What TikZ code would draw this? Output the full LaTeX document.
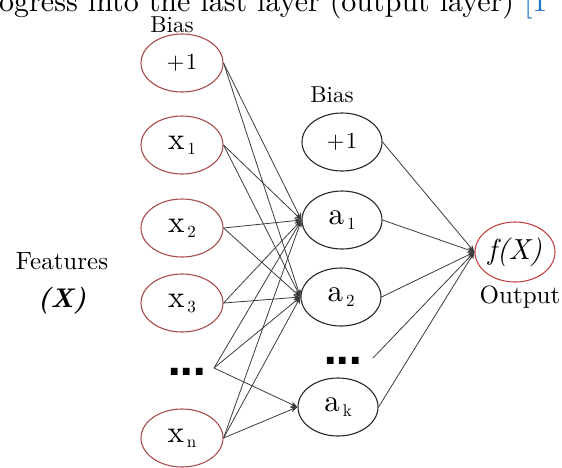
\documentclass[tikz,border=0pt]{standalone}
\usepackage{fontspec}
\setmainfont{lmroman10-regular.otf}[BoldFont=lmroman10-bold.otf, ItalicFont=lmroman10-italic.otf, BoldItalicFont=lmroman10-bolditalic.otf]
\usetikzlibrary{shapes.geometric,arrows.meta}
\newfontfamily\dotsfont{DejaVu Sans}
\definecolor{inred}{HTML}{A84C4C}
\definecolor{outred}{HTML}{C04545}
\definecolor{linkgray}{HTML}{3C3C3C}
\definecolor{refblue}{HTML}{1E78C8}
\newcommand{\nlab}[2]{{\fontsize{31}{31}\selectfont #1}\hspace{3pt}\raisebox{-5pt}{\fontsize{17}{17}\selectfont #2}}
\newcommand{\plusone}{{\fontsize{23}{23}\selectfont +\hspace{1.5pt}1}}
\newcommand{\bigdots}{{\dotsfont\bfseries\fontsize{38}{38}\selectfont .\kern-2pt.\kern-2pt.}}
\begin{document}
\begin{tikzpicture}[x=1pt,y=-1pt,
  neuron/.style={ellipse, draw, line width=1.1pt, minimum width=82pt, minimum height=58pt, inner sep=0pt},
  inneuron/.style={neuron, draw=inred},
  hidneuron/.style={neuron, draw=black!85, minimum width=80pt},
  outneuron/.style={neuron, draw=outred, minimum width=80pt, minimum height=60pt},
  link/.style={draw=linkgray, line width=0.8pt, -{Stealth[length=7pt,width=5.5pt]}},
  lbl/.style={inner sep=0pt, font=\fontsize{23}{23}\selectfont},
  biglbl/.style={inner sep=0pt, font=\fontsize{25}{25}\selectfont},
  dotnode/.style={inner sep=0pt}]
\useasboundingbox (0,0) rectangle (562,467);
% cut-off caption line at top
\node[anchor=base west, inner sep=0pt, font=\fontsize{30}{30}\selectfont] (toptext) at (-1,11)
  {ogress into the last layer (output layer) \textcolor{refblue}{[1}};
% input layer
\node[lbl] (biasL) at (172,25) {Bias};
\node[inneuron] (in0) at (182,63) {\plusone};
\node[inneuron] (in1) at (182,145) {\nlab{x}{1}};
\node[inneuron] (in2) at (182,228) {\nlab{x}{2}};
\node[inneuron] (in3) at (182,303) {\nlab{x}{3}};
\node[dotnode] (inDots) at (187,372) {\bigdots};
\node[inneuron] (inN) at (182,438) {\nlab{x}{n}};
\coordinate (inDotsR) at (214,368);
\node[biglbl] (feat) at (62,261) {Features};
\node[inner sep=0pt, font=\fontsize{27}{27}\selectfont\bfseries\itshape] (featX) at (62,301) {(X)};
% hidden layer
\node[lbl] (biasH) at (332,95) {Bias};
\node[hidneuron] (h0) at (342,142) {\plusone};
\node[hidneuron] (a1) at (342,220) {\nlab{a}{1}};
\node[hidneuron] (a2) at (341,297) {\nlab{a}{2}};
\node[dotnode] (hDots) at (343,361) {\bigdots};
\node[hidneuron] (ak) at (338,407) {\nlab{a}{k}};
\coordinate (hDotsR) at (373,358);
% output
\node[outneuron] (out) at (515,252) {{\fontsize{29}{29}\selectfont\itshape f(X)}};
\node[biglbl] (outlbl) at (520,297) {Output};
% connections input -> hidden
\foreach \s in {in0,in1,in2,in3} {
  \draw[link] (\s.east) -- (a1.west);
  \draw[link] (\s.east) -- (a2.west);
}
\foreach \t in {a1,a2,ak} {
  \draw[link] (inDotsR) -- (\t.west);
  \draw[link] (inN.east) -- (\t.west);
}
% hidden -> output
\foreach \s in {h0,a1,a2,ak} {
  \draw[link] (\s.east) -- (out.west);
}
\draw[link] (hDotsR) -- (out.west);
\end{tikzpicture}
\end{document}
